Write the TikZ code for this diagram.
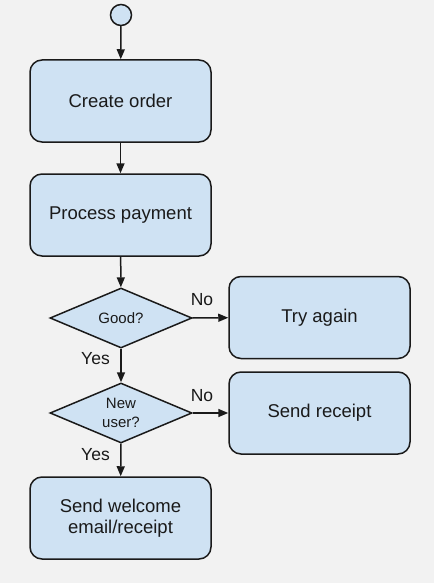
\documentclass[tikz,border=0pt]{standalone}
\usepackage{fontspec}
\setmainfont{Liberation Sans}
\usetikzlibrary{shapes.geometric,arrows.meta}
\definecolor{bg}{HTML}{F2F2F2}
\definecolor{boxfill}{HTML}{CFE2F3}
\definecolor{ink}{HTML}{1A1A1A}
\begin{document}
\begin{tikzpicture}[x=1pt,y=-1pt,
  every node/.style={text=ink},
  procbox/.style={draw=ink,fill=boxfill,line width=1.5pt,rounded corners=12pt,
    minimum width=181pt,minimum height=82pt,inner sep=0pt,align=center,
    font=\fontsize{18.5}{21}\selectfont},
  decision/.style={draw=ink,fill=boxfill,line width=1.5pt,diamond,aspect=2.37,
    minimum width=142pt,minimum height=60pt,inner sep=0pt,align=center,
    font=\fontsize{15}{19}\selectfont},
  startnode/.style={draw=ink,fill=boxfill,line width=1.5pt,circle,minimum size=21pt,inner sep=0pt},
  flow/.style={draw=ink,line width=1.5pt,-{Triangle[length=10pt,width=8pt]}},
  lbl/.style={anchor=base,font=\fontsize{17.5}{20}\selectfont,inner sep=0pt}]
\fill[bg] (0,0) rectangle (434,583);
\useasboundingbox (0,0) rectangle (434,583);
\node[startnode] (start) at (121,15) {};
\node[procbox] (create) at (120.5,101) {Create order};
\node[procbox] (pay) at (120.5,215) {Process payment};
\node[decision] (good) at (121,318) {Good?};
\node[procbox] (retry) at (319.5,317.5) {Try again};
\node[decision] (newuser) at (121,413) {New\\user?};
\node[procbox] (receipt) at (319.5,413) {Send receipt};
\node[procbox] (welcome) at (120.5,518) {Send welcome\\email/receipt};
\draw[flow] (start) -- (create);
\draw[flow] (create) -- (pay);
\draw[flow] (pay) -- (good);
\draw[flow] (good) -- (newuser);
\draw[flow] (newuser) -- (welcome);
\draw[flow] (good) -- (retry);
\draw[flow] (newuser) -- (receipt);
\node[lbl] (no1) at (202,305) {No};
\node[lbl] (yes1) at (95.5,364) {Yes};
\node[lbl] (no2) at (202,401) {No};
\node[lbl] (yes2) at (95.5,460) {Yes};
\end{tikzpicture}
\end{document}
